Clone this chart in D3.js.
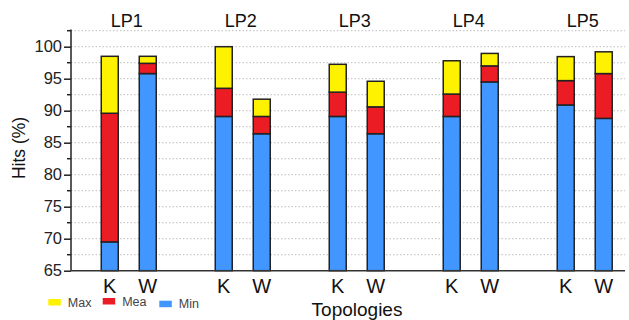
<!DOCTYPE html>
<html><head><meta charset="utf-8">
<script src="https://cdn.jsdelivr.net/npm/d3@7"></script>
<style>html,body{margin:0;padding:0;background:#fff;}svg{display:block;font-family:"Liberation Sans",Arial,sans-serif;}</style>
</head><body><svg id="c" width="629" height="320"></svg>
<script>
const groups = ["LP1","LP2","LP3","LP4","LP5"];
const topologies = ["K","W"];
const minVals  = [69.5, 95.8, 89.1, 86.4, 89.1, 86.4, 89.1, 94.5, 90.9, 88.8];
const meaVals  = [89.6, 97.4, 93.5, 89.1, 92.9, 90.6, 92.6, 97.0, 94.7, 95.8];
const maxVals  = [98.5, 98.5, 100.0, 91.8, 97.25, 94.6, 97.8, 98.95, 98.45, 99.2];
const seriesNames = ["Max","Mea","Min"];
const yTicks = [65,70,75,80,85,90,95,100];
const yMinorTicks = [67.5,72.5,77.5,82.5,87.5,92.5,97.5,102.5];

const colors = {Max:"#FFF200", Mea:"#EC1C24", Min:"#4196FF"};
const svg = d3.select("#c");
const yBase = 65;
const y = d3.scaleLinear().domain([65,100]).range([270.7,46.7]);
const x = d3.scaleLinear().domain([-1.02,13.56]).range([71,625]);
const pos = (i) => Math.floor(i/2)*3 + (i%2);
const bw = 0.447;

// gridlines
const gridVals = yTicks.slice(1).concat(yMinorTicks).sort((a,b)=>a-b);
svg.append("g").selectAll("line").data(gridVals).join("line")
  .attr("x1",x(-1.02)).attr("x2",x(13.56))
  .attr("y1",d=>y(d)).attr("y2",d=>y(d))
  .attr("stroke","#bdbdbd").attr("stroke-width",1).attr("stroke-dasharray","1.5,2");

// bars
const data = minVals.map((mn,i)=>({i, segs:[
  {k:"Min", y0:yBase, y1:mn},
  {k:"Mea", y0:mn, y1:meaVals[i]},
  {k:"Max", y0:meaVals[i], y1:maxVals[i]}
]}));
const bars = svg.append("g").selectAll("g").data(data).join("g");
bars.selectAll("rect").data(d=>d.segs.map(s=>({...s,i:d.i}))).join("rect")
  .attr("x",d=>x(pos(d.i)-bw/2)).attr("width",d=>x(pos(d.i)+bw/2)-x(pos(d.i)-bw/2))
  .attr("y",d=>y(d.y1)).attr("height",d=>y(d.y0)-y(d.y1))
  .attr("fill",d=>colors[d.k]).attr("stroke","#222").attr("stroke-width",1.5);

// y axis
const yAxis = d3.axisLeft(y).tickValues(yTicks).tickSize(7).tickPadding(2).tickFormat(d3.format("d"));
const ya = svg.append("g").attr("transform",`translate(${x(-1.02)},0)`).call(yAxis);
ya.select(".domain").attr("d",`M0,${y(65)}V${y(102.7)}`).attr("stroke","#222").attr("stroke-width",1.5);
ya.selectAll(".tick line").attr("stroke","#222").attr("stroke-width",1.5);
ya.selectAll(".tick text").attr("font-size",16.5).attr("fill","#222").attr("font-family","Liberation Sans, Arial, sans-serif");
ya.append("g").selectAll("line").data(yMinorTicks).join("line")
  .attr("x1",-4).attr("x2",0).attr("y1",d=>y(d)).attr("y2",d=>y(d))
  .attr("stroke","#222").attr("stroke-width",1.5);

// x axis line
svg.append("line").attr("x1",x(-1.02)).attr("x2",x(13.56)).attr("y1",y(65)).attr("y2",y(65))
  .attr("stroke","#333").attr("stroke-width",1.5);

// K/W labels
svg.append("g").selectAll("text").data(minVals.map((_,i)=>i)).join("text")
  .attr("x",i=>x(pos(i))).attr("y",292.5).attr("text-anchor","middle")
  .attr("font-size",20).attr("fill","#111").text(i=>topologies[i%2]);

// group titles
svg.append("g").selectAll("text").data(groups).join("text")
  .attr("x",(d,g)=>x(g*3+0.5)-2).attr("y",27.3).attr("text-anchor","middle")
  .attr("font-size",18).attr("fill","#111").text(d=>d);

// axis titles
svg.append("text").attr("transform","translate(25,148) rotate(-90)").attr("text-anchor","middle")
  .attr("font-size",17.5).attr("fill","#111").text("Hits (%)");
svg.append("text").attr("x",357).attr("y",316).attr("text-anchor","middle")
  .attr("font-size",19).attr("fill","#111").text("Topologies");

// legend
const legX = [48.3, 102.7, 159.3];
const legY = [299, 298, 300.7];
const leg = svg.append("g").selectAll("g").data(seriesNames).join("g")
  .attr("transform",(d,i)=>`translate(${legX[i]},${legY[i]})`);
leg.append("rect").attr("width",12.5).attr("height",6.5).attr("fill",d=>colors[d]);
leg.append("text").attr("x",19.5).attr("y",7.5).attr("font-size",12.5).attr("fill","#444").text(d=>d);
</script></body></html>
